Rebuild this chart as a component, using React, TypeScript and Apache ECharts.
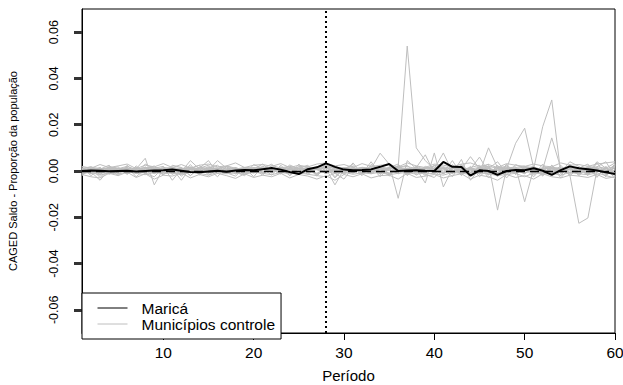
import React, { useEffect, useRef } from "react";
import * as echarts from "echarts";

// Period numbers (x) 1..60
const periods: number[] = [
  1, 2, 3, 4, 5, 6, 7, 8, 9, 10, 11, 12, 13, 14, 15, 16, 17, 18, 19, 20,
  21, 22, 23, 24, 25, 26, 27, 28, 29, 30, 31, 32, 33, 34, 35, 36, 37, 38, 39, 40,
  41, 42, 43, 44, 45, 46, 47, 48, 49, 50, 51, 52, 53, 54, 55, 56, 57, 58, 59, 60,
];
const xTicks = [10, 20, 30, 40, 50, 60];
const yTicks = [-0.06, -0.04, -0.02, 0, 0.02, 0.04, 0.06];
const treatmentPeriod = 28;

// Maricá (proportion of population)
const marica: number[] = [
  0.0, 0.0002, 0.0001, -0.0001, 0.0, 0.0001, -0.0002, 0.0, 0.0002, 0.0003,
  0.0006, 0.0001, -0.0004, -0.0005, -0.0002, 0.0001, -0.0003, 0.0002, 0.0004, 0.0003,
  0.0008, 0.0013, 0.0006, -0.0004, -0.0013, 0.0008, 0.0016, 0.0033, 0.0018, 0.0006,
  0.0003, 0.0004, 0.0007, 0.0018, 0.003, 0.0, 0.0002, 0.0003, 0.0001, 0.0,
  0.0039, 0.0018, 0.0017, -0.002, 0.0003, 0.0, -0.0017, 0.0, 0.0004, 0.0003,
  0.0012, 0.0001, -0.0017, 0.0004, 0.002, 0.0012, 0.0008, 0.0002, -0.0006, -0.0013,
];

// Control municipalities, values in units of 0.0001
const UNIT = 0.0001;
const c01 = [5, -8, 12, 3, -6, 10, 4, -3, 8, 2, -5, 7, 11, -4, 6, 2, -9, 5, 13, -2, 8, 4, -6, 10, 3, 14, 6, 18, -4, 7, 2, -5, 9, 6, 12, 18, 540, 100, 45, 6, -8, 12, 4, -10, 7, 15, -6, 9, 3, -12, 14, 6, -4, 10, -7, 12, 5, -3, 9, 20];
const c02 = [-10, 6, -15, 8, 12, -4, 9, 55, -60, 10, 4, -12, 6, 15, -3, 8, -5, 12, -8, 3, 10, -6, 14, 5, -10, 7, 12, 20, -12, 6, 15, -4, 10, 77, 30, -118, 45, 10, -52, 78, -69, 10, 18, -5, 12, -14, 8, 4, -10, 15, 6, -12, 9, 14, -6, 8, -15, 10, 5, -8];
const c03 = [12, -4, -40, 6, 10, -8, 14, 2, -10, 19, -40, 8, 5, -12, 10, 4, -7, 15, 2, -9, 6, 11, -5, 26, 8, -14, 10, 16, -8, 4, -6, 12, 3, -10, 14, 6, -12, 20, 5, -9, 12, -6, 8, 62, 10, 30, -169, 12, -8, 16, -10, 8, 14, -5, 10, -12, 6, 15, -18, 25];
const c04 = [-6, 10, 4, -12, 8, 15, -5, 9, 3, -8, 14, -3, 45, 8, -10, 6, 12, -4, 10, 5, -8, 12, 6, -10, 9, 4, 15, -6, 10, -3, 8, 14, -7, 10, 5, -12, 9, 16, -4, 8, 12, -10, 6, 15, -8, 10, 4, 12, 18, -133, 10, 192, 307, -10, 8, 14, -6, 10, -12, 6];
const c05 = [8, -12, 6, 14, -4, 9, -10, 12, 5, -6, 10, 4, -8, 12, 45, -10, 6, 14, -3, 8, 30, -5, 12, 8, -14, 10, 6, -8, 12, 15, -4, 9, 13, -6, 10, 12, -8, 15, 70, -10, 6, 14, -12, 8, 60, -5, 12, 10, 120, 185, 13, -8, 10, 6, -14, 12, 8, -6, 15, -10];
const c06 = [4, 14, -8, 10, 6, -12, 8, 15, -5, 10, -8, 12, 6, -4, 14, 9, -10, 6, 12, -7, 10, 5, -12, 14, 8, -6, 10, 12, -60, 8, 12, -8, 6, 14, -10, 8, 12, -6, 10, 4, -12, 10, 8, -6, 14, 10, -8, 12, 6, -10, 14, 8, 143, 12, -17, -226, -203, 5, 12, -14];
const c07 = [-3, 9, 14, -6, 12, 5, -10, 8, 12, -4, 6, 15, -8, 10, 4, 45, 12, -6, 9, 14, -10, 8, 12, 5, -6, 14, 10, -12, 8, 6, 12, -6, 10, 8, -10, 15, 6, -8, 12, 10, 78, -5, 12, 8, -10, 100, 14, 20, -8, 12, 6, -10, 14, 8, 12, -6, 10, 14, -8, 30];
const c08 = [10, -5, 8, 12, -10, 6, 14, -4, 9, 12, -6, 10, 8, -12, 6, 14, -8, 10, 5, -4, 12, 8, -6, 15, 10, -4, 8, 20, 12, -10, 6, 14, -5, 10, 8, -12, 12, 6, -8, 14, 10, -6, 12, 8, -14, 10, 40, -10, 12, 6, -8, 14, 10, -5, 40, 20, -10, 40, 12, -20];
const c09 = [-12, -5, -18, -8, -14, -3, -10, -16, -6, -12, -8, -15, -4, -10, -18, -6, -12, -8, -14, -5, -10, -16, -6, -12, -8, -14, -20, -25, -10, -6, -14, -8, -12, -5, -16, -10, -6, -14, -8, -12, -18, -6, -10, -14, -8, -12, -20, -15, -10, -25, -8, -14, -10, -18, -6, -12, -16, -8, -20, -30];
const c10 = [12, 18, 8, 15, 10, 20, 6, 14, 16, 9, 15, 10, 18, 7, 14, 12, 20, 8, 16, 11, 18, 9, 14, 20, 12, 8, 16, 25, 10, 14, 8, 16, 12, 18, 10, 14, 20, 9, 15, 12, 18, 10, 14, 8, 16, 20, 12, 15, 10, 18, 14, 8, 16, 12, 20, 10, 15, 18, 12, 35];
const c11 = [0, 6, -4, 2, 8, -6, 3, 0, -5, 7, 2, -3, 8, 0, -6, 4, 2, -4, 6, 0, -3, 5, 0, 8, -4, 2, 6, -10, 3, -2, 4, 0, -6, 5, 2, -4, 8, 0, -3, 6, 0, 4, -5, 2, 6, -8, 3, 0, -4, 5, 2, -6, 4, 0, 8, -3, 2, 5, -4, 0];
const c12 = [-8, 4, 10, -14, 2, 12, -6, 8, -12, 5, 10, -40, 14, 2, -8, 10, 4, -12, 8, 14, -6, 10, 2, -8, 14, 6, -10, 12, 4, -14, 10, 6, -12, 8, 14, -4, 10, -10, 20, 4, -10, 14, 8, -6, 15, 4, -12, 10, 14, -8, 6, 12, -10, 8, 4, -14, 12, 6, -10, 15];
const c13 = [15, -20, 8, 25, -12, 18, -25, 10, 22, -15, 20, -10, 28, -18, 12, 25, -8, -22, 15, 10, -18, 25, 12, -20, 30, -10, 18, 22, -25, 12, 20, -15, 28, 10, -22, 15, 25, -18, 10, 22, -12, 28, -20, 15, 25, -30, 12, -18, 28, 10, -25, 18, 12, -20, 30, -15, 22, 10, -25, 30];
const c14 = [-20, 12, -28, 10, 18, -15, 22, -10, -25, 15, 12, -22, 10, 25, -18, 8, 20, -12, 15, -25, 22, -8, 18, -20, 12, 25, -15, 30, -10, -35, 15, -20, 22, 12, -18, 25, -10, 20, -15, -28, 18, -12, 25, -20, 10, 18, -25, 30, -15, 20, 12, -22, 25, -10, 18, -20, 15, -28, 20, -35];
const c15 = [8, 18, -10, 15, -20, 25, -12, 30, 10, -18, 25, 15, -20, 18, 10, -25, 22, 12, -15, 28, 10, -18, 25, -12, 20, 15, -22, 18, -30, 10, 28, -12, 20, -25, 15, 30, -18, 12, -20, 25, 15, -25, 30, -12, 20, -18, 25, -30, 15, 22, -18, 30, -15, 25, -20, 12, 30, -25, 18, -22];
const c16 = [-5, 10, -15, 20, 8, -12, 15, -8, 12, 20, -15, 10, -20, 12, 25, -10, 18, -5, -20, 15, 10, 30, -12, 15, -8, 20, -15, 12, 18, -10, 35, -12, 40, -15, 10, 20, -20, 15, -10, 25, -8, 45, -15, 20, -25, 12, -18, 25, -12, 10, 20, -15, 25, -30, 15, 10, -20, 35, -15, 20];
const c17 = [-15, -25, -30, -10, -20, -5, -28, -12, -35, -18, -22, -8, -30, -15, -25, -10, -20, -32, -12, -28, -18, -25, -10, -30, -15, -22, -35, -20, -40, -15, -25, -12, -30, -20, -18, -35, -10, -28, -22, -15, -30, -20, -12, -35, -18, -25, -40, -15, -28, -20, -35, -12, -25, -30, -18, -22, -28, -15, -32, -25];
const c18 = [20, 12, 28, 15, 22, 30, 10, 25, 18, 32, 15, 28, 12, 25, 30, 18, 22, 35, 15, 25, 28, 20, 32, 15, 25, 18, 30, 35, 22, 28, 15, 32, 20, 25, 28, 18, 35, 22, 15, 30, 25, 18, 30, 35, 20, 28, 15, 32, 25, 20, 30, 22, 18, 35, 25, 28, 20, 30, 35, 40];
const c19 = [0, -10, 5, -8, 12, -5, 8, -12, 3, -6, 10, -8, 4, -12, 6, 0, -10, 8, -4, 12, -8, 6, -12, 10, -5, 8, -15, 5, -8, 12, -6, 10, -4, 8, -12, 6, -10, 12, -6, 8, -10, 4, -12, 10, -5, 12, -8, 6, -12, 8, -4, 10, -8, 12, -6, 4, -10, 8, -12, 15];
const c20 = [10, -5, 15, -10, 5, 12, -8, 18, -6, 10, -12, 8, 15, -5, 20, -10, 6, 12, -15, 8, 15, -8, 10, 18, -12, 5, 15, -10, 20, 8, -10, 15, 5, -12, 18, 8, -15, 10, 12, -8, 15, -10, 50, -40, 10, -15, 20, 8, -12, 15, 10, -18, 12, 8, -10, 15, -12, 18, 40, -25];
const controls = [c01, c02, c03, c04, c05, c06, c07, c08, c09, c10, c11, c12, c13, c14, c15, c16, c17, c18, c19, c20];

const FONT = "'Liberation Sans', Arial, sans-serif";
const MARICA = "Maricá";
const CONTROL = "Municípios controle";

export default function App() {
  const ref = useRef<HTMLDivElement>(null);
  useEffect(() => {
    if (!ref.current) return;
    const chart = echarts.init(ref.current, undefined, { renderer: "svg" });
    const controlSeries = controls.map((c) => ({
      type: "line",
      name: CONTROL,
      data: periods.map((p, i) => [p, c[i] * UNIT]),
      symbol: "none",
      showSymbol: false,
      silent: true,
      z: 2,
      lineStyle: { color: "#bebebe", width: 1 },
      itemStyle: { color: "#bebebe" },
    }));
    chart.setOption({
      animation: false,
      grid: {
        left: 82,
        right: 8,
        top: 9,
        bottom: 52,
        containLabel: false,
        outerBoundsMode: "none",
        show: true,
        borderColor: "#000",
        borderWidth: 1,
        backgroundColor: "transparent",
      },
      xAxis: {
        type: "value",
        min: 1,
        max: 60,
        name: "Período",
        nameLocation: "middle",
        nameGap: 35,
        nameMoveOverlap: false,
        nameTextStyle: { fontFamily: FONT, fontSize: 15, color: "#000" },
        axisLine: { show: true, onZero: false, lineStyle: { color: "#000", width: 1 } },
        splitLine: { show: false },
        axisTick: {
          show: true,
          inside: false,
          length: 7,
          customValues: xTicks,
          lineStyle: { color: "#000" },
        },
        axisLabel: {
          customValues: xTicks,
          margin: 11,
          fontFamily: FONT,
          fontSize: 15.5,
          color: "#000",
        },
      },
      yAxis: {
        type: "value",
        min: -0.07,
        max: 0.07,
        name: "CAGED Saldo - Proporção da população",
        nameLocation: "middle",
        nameRotate: 90,
        nameGap: 64,
        nameMoveOverlap: false,
        nameTextStyle: { fontFamily: FONT, fontSize: 11, color: "#000" },
        axisLine: { show: true, onZero: false, lineStyle: { color: "#000", width: 1 } },
        splitLine: { show: false },
        axisTick: {
          show: true,
          inside: false,
          length: 8,
          customValues: yTicks,
          lineStyle: { color: "#333333", width: 3 },
        },
        axisLabel: {
          customValues: yTicks,
          rotate: 90,
          margin: 22,
          fontFamily: FONT,
          fontSize: 12.5,
          color: "#000",
          formatter: (v: number) => v.toFixed(2),
        },
      },
      legend: {
        orient: "vertical",
        left: 82,
        top: 293,
        data: [
          {
            name: MARICA,
            lineStyle: { width: 1, color: "#000" },
            itemStyle: { color: "rgba(0,0,0,0)", opacity: 0, borderWidth: 0 },
          },
          {
            name: CONTROL,
            lineStyle: { width: 1, color: "#bebebe" },
            itemStyle: { color: "rgba(0,0,0,0)", opacity: 0, borderWidth: 0 },
          },
        ],
        itemWidth: 30,
        itemHeight: 13,
        itemGap: 0,
        padding: [7, 6, 7, 15],
        borderColor: "#000",
        borderWidth: 1,
        borderRadius: 0,
        backgroundColor: "#fff",
        selectedMode: false,
        textStyle: {
          fontFamily: FONT,
          fontSize: 15.5,
          color: "#000",
          lineHeight: 13,
          padding: [0, 0, 0, 9],
        },
      },
      series: [
        ...controlSeries,
        {
          type: "line",
          name: MARICA,
          data: periods.map((p, i) => [p, marica[i]]),
          symbol: "none",
          showSymbol: false,
          silent: true,
          z: 3,
          lineStyle: { color: "#000", width: 2 },
          itemStyle: { color: "#000" },
          markLine: {
            silent: true,
            symbol: ["none", "none"],
            label: { show: false },
            data: [
              { xAxis: treatmentPeriod, lineStyle: { color: "#000", width: 2, type: [2, 3] } },
              { yAxis: 0, lineStyle: { color: "#000", width: 1.3, type: [9, 5] } },
            ],
          },
        },
      ],
    });
    return () => chart.dispose();
  }, []);
  return (
    <div
      ref={ref}
      style={{ position: "absolute", left: 0, top: 0, width: 623, height: 385 }}
    />
  );
}
